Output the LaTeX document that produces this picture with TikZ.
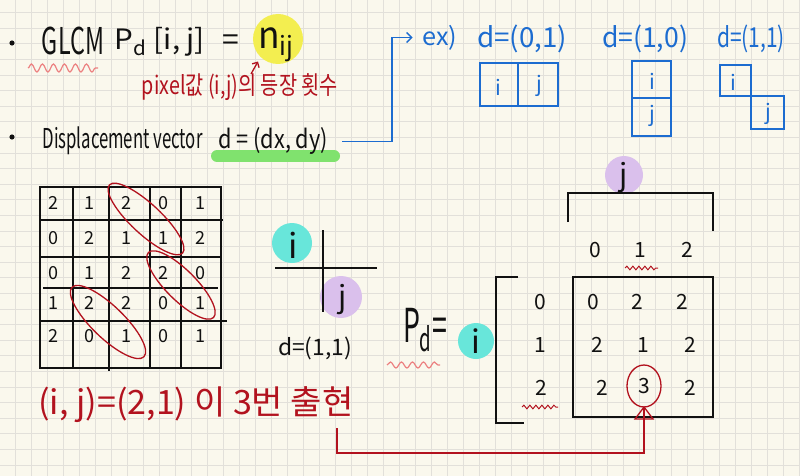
\documentclass[tikz,border=0pt]{standalone}
\usepackage{fontspec}
\setmainfont{Noto Sans CJK KR}
\usepackage{graphicx}
\usetikzlibrary{arrows.meta,shapes.geometric,decorations.pathmorphing,calc}
\definecolor{paper}{RGB}{250,248,237}
\definecolor{gridc}{RGB}{226,224,218}
\definecolor{ink}{RGB}{17,17,17}
\definecolor{redink}{RGB}{178,18,30}
\definecolor{blueink}{RGB}{28,108,208}
\definecolor{hlyellow}{RGB}{243,238,80}
\definecolor{hlgreen}{RGB}{128,226,110}
\definecolor{hlcyan}{RGB}{104,230,218}
\definecolor{hlpurple}{RGB}{218,192,236}
\definecolor{pinkw}{RGB}{236,128,128}
\newcommand{\fitt}[3]{\resizebox*{#1pt}{#2pt}{#3}}
\begin{document}
\begin{tikzpicture}[x=1pt,y=-1pt,
  gridline/.style={draw=gridc,line width=0.9pt},
  txt/.style={inner sep=0pt,outer sep=0pt,font=\fontsize{20}{22}\selectfont},
  dig/.style={inner sep=0pt,outer sep=0pt,text=ink,font=\fontsize{18}{18}\selectfont},
  bigdig/.style={inner sep=0pt,outer sep=0pt,text=ink,font=\fontsize{21}{21}\selectfont},
  bluetxt/.style={inner sep=0pt,outer sep=0pt,text=blueink,font=\fontsize{21}{21}\selectfont},
  inkline/.style={draw=ink,line width=1.4pt},
  blueline/.style={draw=blueink,line width=1.4pt},
  redline/.style={draw=redink,line width=1.3pt},
  wavy/.style={line width=1.2pt,decorate,decoration={snake,amplitude=#1,segment length=11pt}}
]
\useasboundingbox (0,0) rectangle (800,476);
\fill[paper] (0,0) rectangle (800,476);
\foreach \i in {0,...,50} \draw[gridline] ({\i*16-0.3},0) -- ({\i*16-0.3},476);
\foreach \k in {0,...,29} \draw[gridline] (0,{12.7+15.6*\k}) -- (800,{12.7+15.6*\k});

% ---------- highlights ----------
\fill[hlyellow] (278,39) circle (25);
\draw[hlgreen,line width=12pt,line cap=round] (217,156) -- (334,156);
\fill[hlcyan] (292,243) circle (20);
\fill[hlpurple] (341,297) circle (21);
\fill[hlpurple] (624,175) circle (19);
\fill[hlcyan] (476,341) circle (18);

% ---------- top lines ----------
\fill[ink] (12,43) circle (2.6);
\fill[ink] (12,137) circle (2.6);
\node[txt,text=ink] (glcm) at (73,41) {\fitt{62}{28}{GLCM}};
\draw[pinkw,wavy=4pt] (28,68) -- (98,68);
\node[txt,text=ink] (pd) at (160,42) {\fitt{90}{29}{P\textsubscript{d} [i, j]}};
\node[txt,text=ink,font=\fontsize{30}{30}\selectfont] (eq) at (231,43) {=};
\node[txt,text=ink] (nij) at (276,44.5) {\fitt{36}{34}{n\textsubscript{ij}}};
\node[txt,text=redink] (pix) at (240,87.5) {\fitt{196}{27}{pixel값 (i,j)의 등장 횟수}};
\draw[redline,-{Straight Barb[length=4pt]}] ([xshift=11pt]pix.north) -- (nij.south west);

\node[txt,text=ink] (disp) at (122.5,141) {\fitt{160}{28}{Displacement vector}};
\node[txt,text=ink] (dxdy) at (273,141.5) {\fitt{110}{27}{d = (dx, dy)}};

% ---------- examples ----------
\node[txt,text=blueink] (ex) at (440,37.5) {\fitt{35}{25}{ex)}};
\coordinate (bcorner) at (392,141.5);
\draw[blueline,-{Straight Barb[length=5pt]},shorten <=14pt,shorten >=10pt] (dxdy.east) -- (bcorner) |- (ex.west);
\node[txt,text=blueink] (d01) at (522,39) {\fitt{90}{28}{d=(0,1)}};
\node[txt,text=blueink] (d10) at (645,39) {\fitt{86}{28}{d=(1,0)}};
\node[txt,text=blueink] (d11) at (751,39) {\fitt{68}{28}{d=(1,1)}};
\draw[blueline] (480,63) rectangle (558,106) (518,63) -- (518,106);
\node[bluetxt] (b1i) at (498,87) {i};
\node[bluetxt] (b1j) at (539,86) {j};
\draw[blueline] (632,61) rectangle (671,136) (632,98) -- (671,98);
\node[bluetxt] (b2i) at (652,81) {i};
\node[bluetxt] (b2j) at (652,116) {j};
\draw[blueline] (720,65) rectangle (751,96);
\draw[blueline] (751,96) rectangle (784,129);
\node[bluetxt] (b3i) at (733,82) {i};
\node[bluetxt] (b3j) at (768,114) {j};

% ---------- image grid ----------
\draw[inkline] (40,187) rectangle (221,368);
\draw[inkline] (73,187) -- (73,368);
\draw[inkline] (109,187) -- (109,371);
\draw[inkline] (150,187) -- (150,368);
\draw[inkline] (181,187) -- (181,368);
\draw[inkline] (40,220) -- (223,220);
\draw[inkline] (40,257) -- (221,257);
\draw[inkline] (43,288) -- (218,288);
\draw[inkline] (40,321) -- (227,321);
\foreach \r/\y/\vals in {0/203/{2,1,2,0,1},1/238/{0,2,1,1,2},2/273/{0,1,2,2,0},3/303/{1,2,2,0,1},4/336/{2,0,1,0,1}}{
  \foreach \v [count=\c from 0] in \vals {
    \pgfmathsetmacro{\xx}{53+36.8*\c}
    \node[dig] (g\r\c) at (\xx,\y) {\v};
  }
}
\draw[redline,rotate around={-43:(146,219)}] (146,219) ellipse [x radius=50pt,y radius=15pt];
\draw[redline,rotate around={-45:(181,285)}] (181,285) ellipse [x radius=46pt,y radius=15pt];
\draw[redline,rotate around={-44:(108,322)}] (108,322) ellipse [x radius=50pt,y radius=16pt];

% ---------- cross ----------
\draw[inkline] (275,268) -- (377,268);
\draw[inkline] (323,230) -- (323,312);
\node[txt,text=ink,font=\fontsize{34}{34}\selectfont] (ci) at (293,245) {i};
\node[txt,text=ink,font=\fontsize{30}{30}\selectfont] (cj) at (343,300) {j};
\node[txt,text=ink] (d11b) at (315,348) {\fitt{74}{23}{d=(1,1)}};

\node[txt,text=redink] (obs) at (196,405) {\fitt{315}{36}{(i, j)=(2,1) 이 3번 출현}};

% ---------- co-occurrence matrix ----------
\node[txt,text=ink,font=\fontsize{30}{30}\selectfont] (tj) at (624,178) {j};
\draw[inkline] (568,222) -- (568,193) -- (713,193) -- (713,231);
\node[bigdig] (c0) at (595,250) {0};
\node[bigdig] (c1) at (640,250) {1};
\node[bigdig] (c2) at (687,250) {2};
\draw[redink,wavy=1.8pt,line width=1pt,decoration={segment length=6pt}] (625,268) -- (658,268);
\node[txt,text=ink] (pdeq) at (425,330) {\fitt{44}{44}{P\textsubscript{d}=}};
\draw[pinkw,wavy=3pt] (387,365) -- (440,365);
\node[txt,text=ink,font=\fontsize{32}{32}\selectfont] (pi) at (476,341) {i};
\draw[inkline] (518,277) -- (496,277) -- (496,423) -- (524,423);
\node[bigdig] (r0) at (540,302) {0};
\node[bigdig] (r1) at (540,345) {1};
\node[bigdig] (r2) at (541,388) {2};
\draw[redink,wavy=1.8pt,line width=1pt,decoration={segment length=6pt}] (522,407) -- (558,407);
\draw[inkline] (573,277) rectangle (713,417);
\node[bigdig] (m00) at (593,302) {0};
\node[bigdig] (m01) at (637,302) {2};
\node[bigdig] (m02) at (682,302) {2};
\node[bigdig] (m10) at (597,345) {2};
\node[bigdig] (m11) at (643,345) {1};
\node[bigdig] (m12) at (690,345) {2};
\node[bigdig] (m20) at (602,388) {2};
\node[bigdig,draw=redink,line width=1.3pt,ellipse,minimum width=34pt,minimum height=42pt] (three) at (644,386) {3};
\node[bigdig] (m22) at (690,388) {2};

\coordinate (rc1) at (337,428);
\coordinate (rc2) at (644,453);
\draw[redline] (rc1) |- (rc2) -- (three.south);
\draw[redline,line join=miter] ($(three.south)+(-9,12)$) -- (three.south) -- ($(three.south)+(9,12)$) -- cycle;
\end{tikzpicture}
\end{document}
